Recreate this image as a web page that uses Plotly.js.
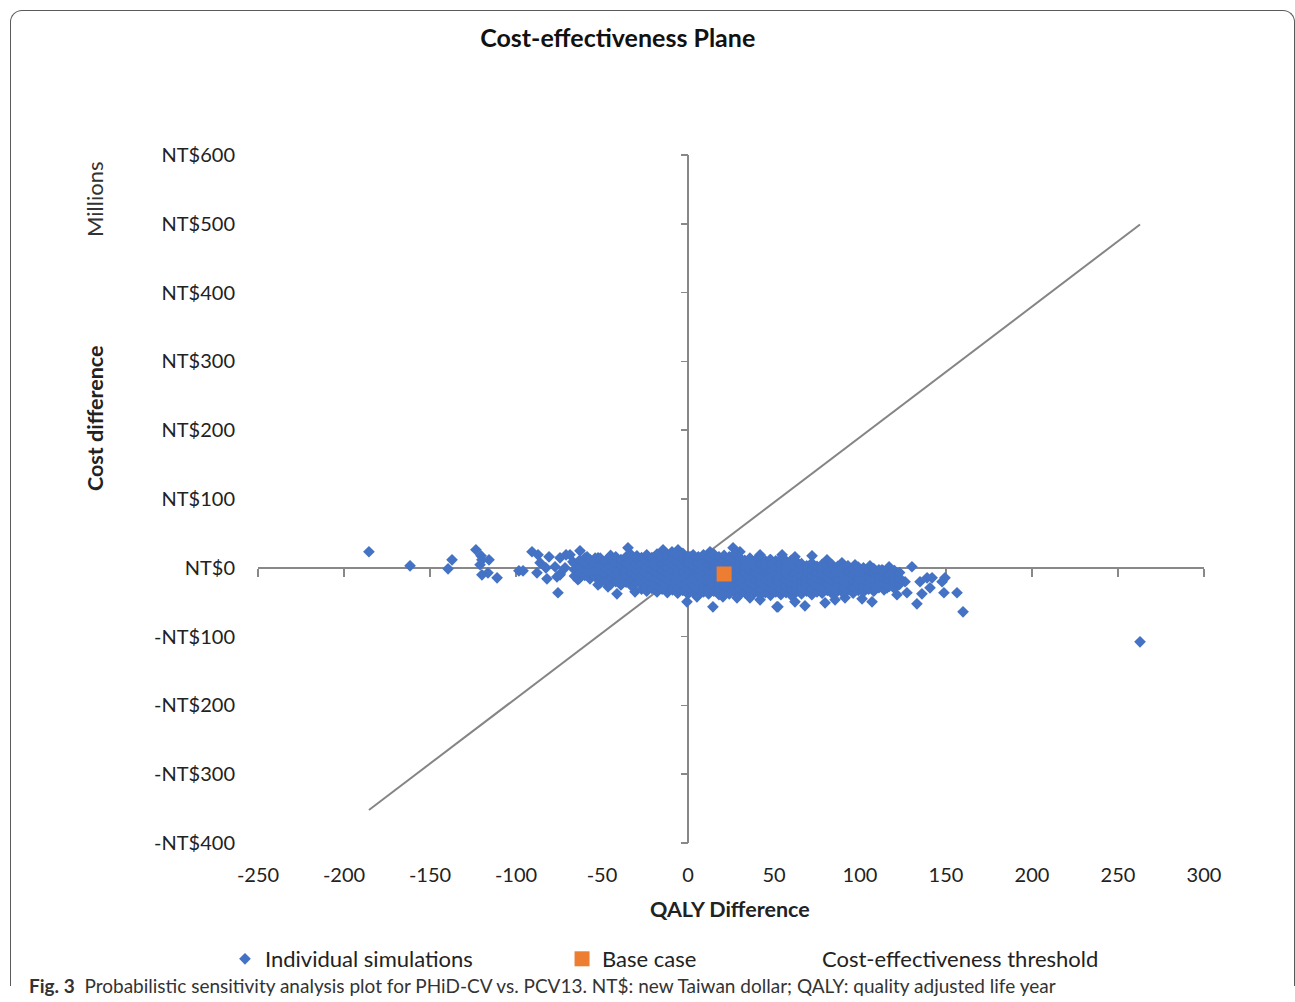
<!DOCTYPE html>
<html>
<head>
<meta charset="utf-8">
<script src="https://cdn.plot.ly/plotly-3.0.1.min.js"></script>
<style>
  html, body { margin: 0; padding: 0; background: #ffffff; }
  #frame { position: absolute; left: 10px; top: 10px; width: 1283px; height: 975px;
           border: 1.5px solid #5a5a5a; border-bottom: none; border-radius: 12px 12px 0 0; }
  #chart { position: absolute; left: 0; top: 0; width: 1295px; height: 1002px; }
</style>
</head>
<body>
<div id="frame"></div>
<div id="chart"></div>
<script>
// ---------- data ----------
const chartTitle = "Cost-effectiveness Plane";
const xTitle = "QALY Difference";
const yTitle = "Cost difference";
const yUnit = "Millions";
const caption = "<b>Fig. 3</b>  Probabilistic sensitivity analysis plot for PHiD-CV vs. PCV13. NT$: new Taiwan dollar; QALY: quality adjusted life year";

const xTickVals = [-250, -200, -150, -100, -50, 0, 50, 100, 150, 200, 250, 300];
const xTickText = ["-250", "-200", "-150", "-100", "-50", "0", "50", "100", "150", "200", "250", "300"];
const yTickVals = [-400, -300, -200, -100, 0, 100, 200, 300, 400, 500, 600];
const yTickText = ["-NT$400", "-NT$300", "-NT$200", "-NT$100", "NT$0", "NT$100", "NT$200", "NT$300", "NT$400", "NT$500", "NT$600"];

// Individual simulations: [QALY difference, cost difference (NT$ millions)]
const simPoints = [
  [-185.5,23.3],[-161.6,2.9],[-139.5,-1.5],[-137.2,11.6],
  [-123.3,26.2],[-120.3,17.4],[-119.8,11.6],[-115.7,11.6],[-120.9,4.4],[-119.8,-10.2],[-116.3,-7.3],[-111.0,-14.5],
  [-98.3,-4.4],[-95.9,-4.4],[-90.7,23.3],[-87.2,18.9],[-80.8,16.0],[-86.0,7.3],[-87.8,-7.3],[-82.0,-16.0],
  [-82.6,0],[-77.3,1.5],[-74.4,14.5],[-70.9,18.9],[-74.4,-8.7],[-75.6,-36.3],[-71.5,0],[-76.2,-13.1],
  [-66.9,8.7],[-74.4,-10.2],[-64.0,-13.1],[-58.7,16.0],
  [-62.8,24.7],[-68.6,18.9],[-59.9,14.5],[-52.3,14.5],[-34.9,29.1],[-29.7,17.4],[-14.5,26.2],[-9.3,23.3],
  [-64.0,-17.4],[-52.3,-24.7],[-46.5,-27.6],[-41.3,-37.8],[-30.8,-34.9],[-25.0,-29.1],[-23.3,-20.3],
  [-5.8,26.2],[1.2,16.0],[12.8,23.3],[26.2,29.1],[30.2,23.3],[41.9,18.9],[47.7,11.6],
  [-0.6,-49.4],[5.2,-42.2],[14.5,-56.7],[20.3,-42.2],[28.5,-43.6],[36.0,-43.6],[41.9,-46.5],[51.7,-56.7],
  [54.7,18.9],[62.2,16.0],[72.1,17.4],[80.8,11.6],[89.5,7.3],[97.1,4.4],[105.8,2.9],[112.8,-2.9],
  [52.3,-56.7],[62.2,-49.4],[68.0,-55.2],[79.7,-50.9],[85.5,-46.5],[91.3,-43.6],[101.2,-45.1],[107.0,-49.4],
  [116.9,1.5],[113.4,-4.4],[130.2,1.5],[119.2,-20.3],[126.2,-20.3],[115.7,-29.1],[121.5,-39.2],[127.3,-36.3],
  [134.9,-20.3],[139.0,-14.5],[141.9,-14.5],[140.7,-29.1],[136.0,-37.8],[147.7,-20.3],[149.4,-14.5],
  [148.8,-36.3],[156.4,-36.3],[133.1,-52.3],[159.9,-64.0],
  [262.8,-107.6],
  [-66,-12],[-66,-3],[-66,6],
  [-63,-15],[-63,-7],[-63,2],[-63,11],
  [-60,-11],[-60,-2],[-60,8],
  [-57,-16],[-57,-6],[-57,3],[-57,12],
  [-54,-13],[-54,-4],[-54,6],[-54,14],
  [-51,-22],[-51,-13],[-51,-4],[-51,5],[-51,14],
  [-48,-18],[-48,-9],[-48,1],[-48,10],
  [-45,-24],[-45,-14],[-45,-5],[-45,4],[-45,13],[-45,18],
  [-42,-20],[-42,-10],[-42,-1],[-42,8],[-42,16],
  [-39,-25],[-39,-15],[-39,-6],[-39,3],[-39,12],
  [-36,-21],[-36,-11],[-36,-2],[-36,7],[-36,16],
  [-33,-26],[-33,-16],[-33,-7],[-33,2],[-33,11],[-33,19],
  [-30,-22],[-30,-12],[-30,-3],[-30,6],[-30,15],
  [-27,-31],[-27,-21],[-27,-12],[-27,-3],[-27,6],[-27,15],
  [-24,-34],[-24,-26],[-24,-17],[-24,-8],[-24,1],[-24,10],[-24,19],
  [-21,-30],[-21,-21],[-21,-12],[-21,-3],[-21,6],[-21,15],
  [-18,-35],[-18,-26],[-18,-16],[-18,-7],[-18,2],[-18,11],[-18,20],
  [-15,-31],[-15,-22],[-15,-12],[-15,-3],[-15,7],[-15,16],
  [-12,-36],[-12,-27],[-12,-17],[-12,-8],[-12,1],[-12,10],[-12,19],
  [-9,-32],[-9,-23],[-9,-13],[-9,-4],[-9,5],[-9,14],[-9,21],
  [-6,-37],[-6,-28],[-6,-18],[-6,-9],[-6,0],[-6,9],[-6,18],
  [-3,-33],[-3,-24],[-3,-14],[-3,-5],[-3,4],[-3,13],[-3,21],
  [0,-38],[0,-29],[0,-19],[0,-10],[0,-1],[0,8],[0,17],
  [3,-34],[3,-25],[3,-15],[3,-6],[3,3],[3,12],[3,19],
  [6,-39],[6,-30],[6,-20],[6,-11],[6,-2],[6,7],[6,16],
  [9,-35],[9,-26],[9,-16],[9,-7],[9,2],[9,11],[9,19],
  [12,-38],[12,-29],[12,-21],[12,-12],[12,-3],[12,6],[12,15],
  [15,-34],[15,-25],[15,-15],[15,-6],[15,3],[15,12],[15,20],
  [18,-39],[18,-30],[18,-20],[18,-11],[18,-2],[18,7],[18,16],
  [21,-35],[21,-26],[21,-16],[21,-6],[21,2],[21,11],[21,18],
  [24,-38],[24,-29],[24,-20],[24,-11],[24,-2],[24,7],[24,16],
  [27,-34],[27,-25],[27,-15],[27,-6],[27,3],[27,12],[27,20],
  [30,-39],[30,-30],[30,-20],[30,-11],[30,-2],[30,7],[30,15],
  [33,-36],[33,-26],[33,-16],[33,-7],[33,2],[33,11],
  [36,-40],[36,-31],[36,-21],[36,-12],[36,-3],[36,6],[36,14],
  [39,-35],[39,-26],[39,-16],[39,-7],[39,2],[39,11],
  [42,-39],[42,-30],[42,-21],[42,-12],[42,-3],[42,6],[42,13],
  [45,-36],[45,-27],[45,-17],[45,-8],[45,1],[45,10],
  [48,-40],[48,-31],[48,-22],[48,-13],[48,-4],[48,5],[48,12],
  [51,-35],[51,-26],[51,-17],[51,-8],[51,1],[51,10],
  [54,-39],[54,-30],[54,-21],[54,-12],[54,-3],[54,6],[54,13],
  [57,-36],[57,-27],[57,-17],[57,-8],[57,1],[57,10],
  [60,-40],[60,-31],[60,-22],[60,-13],[60,-4],[60,5],[60,11],
  [63,-35],[63,-26],[63,-17],[63,-8],[63,1],[63,9],
  [66,-38],[66,-29],[66,-20],[66,-11],[66,-2],[66,6],
  [69,-34],[69,-25],[69,-15],[69,-6],[69,3],
  [72,-39],[72,-30],[72,-20],[72,-11],[72,-2],[72,7],
  [75,-35],[75,-26],[75,-16],[75,-7],[75,2],
  [78,-37],[78,-28],[78,-19],[78,-10],[78,-1],[78,5],
  [81,-33],[81,-24],[81,-15],[81,-6],[81,3],
  [84,-38],[84,-29],[84,-20],[84,-11],[84,-2],[84,4],
  [87,-34],[87,-25],[87,-15],[87,-6],[87,2],
  [90,-36],[90,-27],[90,-18],[90,-9],[90,0],
  [93,-32],[93,-23],[93,-14],[93,-5],[93,3],
  [96,-37],[96,-28],[96,-19],[96,-10],[96,-1],
  [99,-33],[99,-24],[99,-15],[99,-6],[99,1],
  [102,-35],[102,-26],[102,-17],[102,-8],[102,0],
  [105,-31],[105,-22],[105,-13],[105,-4],
  [108,-34],[108,-25],[108,-16],[108,-7],[108,-1],
  [111,-29],[111,-20],[111,-11],[111,-3],
  [114,-32],[114,-23],[114,-14],[114,-6],
  [117,-27],[117,-18],[117,-9],
  [120,-30],[120,-21],[120,-12],[120,-4],
  [123,-24],[123,-15],[123,-7]
];

const baseCaseQaly = [21];
const baseCaseCost = [-9];

const thresholdQaly = [-185.5, 262.8];
const thresholdCost = [-352, 499];

const xRange = [-250, 300];
const yRange = [-400, 600];

// ---------- chart ----------
const simQaly = simPoints.map(p => p[0]);
const simCost = simPoints.map(p => p[1]);

const FONT = "Lato, 'Open Sans', sans-serif";
const TXT = "#222222";
const AXC = "#888888";

const traces = [
  { x: thresholdQaly, y: thresholdCost, type: "scatter", mode: "lines",
    line: { color: "#858585", width: 2 }, name: "Cost-effectiveness threshold",
    showlegend: false, hoverinfo: "skip" },
  { x: simQaly, y: simCost, type: "scatter", mode: "markers", name: "Individual simulations",
    marker: { symbol: "diamond", size: 9, color: "#4472C4" }, legend: "legend" },
  { x: baseCaseQaly, y: baseCaseCost, type: "scatter", mode: "markers", name: "Base case",
    marker: { symbol: "square", size: 15, color: "#ED7D31" }, legend: "legend2" },
  { x: [null], y: [null], xaxis: "x2", yaxis: "y2", type: "scatter", mode: "lines",
    name: "Cost-effectiveness threshold", line: { color: "rgba(255,255,255,0)", width: 2 },
    legend: "legend3", hoverinfo: "skip" }
];

const legendBase = { orientation: "h", yanchor: "middle", xanchor: "left", y: -0.1686,
  font: { family: FONT, size: 22, color: TXT }, bgcolor: "rgba(0,0,0,0)", borderwidth: 0 };

const layout = {
  width: 1295, height: 1002,
  margin: { l: 258, r: 91, t: 155, b: 159 },
  paper_bgcolor: "rgba(0,0,0,0)", plot_bgcolor: "rgba(0,0,0,0)",
  font: { family: FONT, color: TXT },
  title: { text: "<b>" + chartTitle + "</b>", xref: "container", x: 0.477, xanchor: "center",
           yref: "container", y: 0.962, yanchor: "middle",
           font: { family: FONT, size: 25, color: "#111111" } },
  xaxis: { range: xRange, tickvals: xTickVals, ticktext: xTickText, showgrid: false,
           showline: false, ticks: "", zeroline: true, zerolinecolor: AXC, zerolinewidth: 1.5,
           tickfont: { family: FONT, size: 20, color: TXT }, ticklabelstandoff: 18, fixedrange: true },
  yaxis: { range: yRange, tickvals: yTickVals, ticktext: yTickText, showgrid: false,
           showline: false, ticks: "", zeroline: true, zerolinecolor: AXC, zerolinewidth: 1.5,
           tickfont: { family: FONT, size: 20, color: TXT }, ticklabelstandoff: 22, fixedrange: true },
  xaxis2: { overlaying: "x", anchor: "free", position: 0.4, side: "bottom", range: xRange,
            tickvals: xTickVals, showticklabels: false, ticks: "outside", ticklen: 8, tickwidth: 1.5,
            tickcolor: AXC, showgrid: false, zeroline: false, showline: false,
            layer: "below traces", fixedrange: true },
  yaxis2: { overlaying: "y", anchor: "free", position: 0.4545, side: "left", range: yRange,
            tickvals: yTickVals, showticklabels: false, ticks: "outside", ticklen: 7, tickwidth: 1.5,
            tickcolor: AXC, showgrid: false, zeroline: false, showline: false,
            layer: "below traces", fixedrange: true },
  legend: Object.assign({}, legendBase, { x: -0.0349 }),
  legend2: Object.assign({}, legendBase, { x: 0.3214 }),
  legend3: Object.assign({}, legendBase, { x: 0.5539 }),
  annotations: [
    { text: "<b>" + yTitle + "</b>", xref: "paper", yref: "paper", x: 0, y: 0.6177,
      xshift: -163, textangle: -90, showarrow: false, xanchor: "center", yanchor: "middle",
      font: { family: FONT, size: 21.5, color: TXT } },
    { text: yUnit, xref: "paper", yref: "paper", x: 0, y: 0.9346,
      xshift: -163, textangle: -90, showarrow: false, xanchor: "center", yanchor: "middle",
      font: { family: FONT, size: 22, color: "#333333" } },
    { text: "<b>" + xTitle + "</b>", xref: "paper", yref: "paper", x: 0.499, y: 0,
      yshift: -66, showarrow: false, xanchor: "center", yanchor: "middle",
      font: { family: FONT, size: 21.5, color: TXT } },
    { text: caption, xref: "paper", yref: "paper", x: -0.2442, y: -0.2078,
      showarrow: false, xanchor: "left", yanchor: "middle",
      font: { family: FONT, size: 19, color: "#333333" } }
  ]
};

Plotly.newPlot("chart", traces, layout, { displayModeBar: false, staticPlot: true });
</script>
</body>
</html>
